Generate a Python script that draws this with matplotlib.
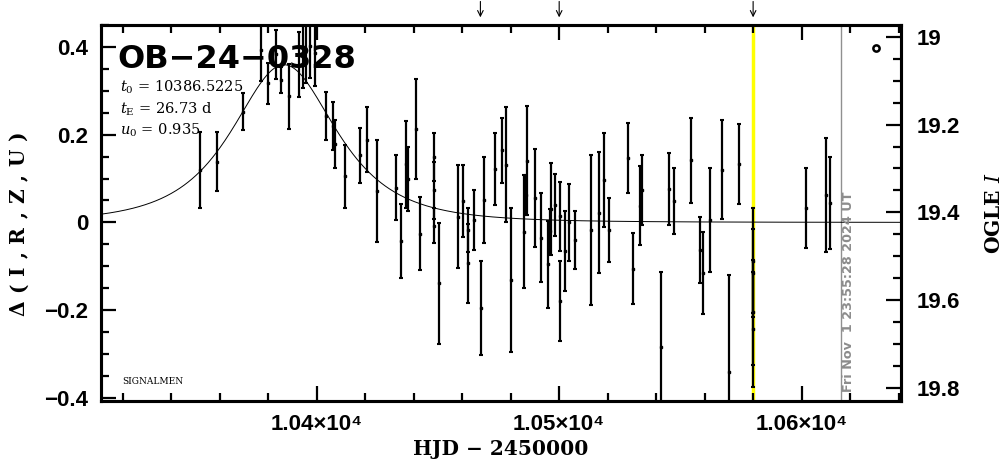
import numpy as np
import matplotlib
matplotlib.use('Agg')
import matplotlib.pyplot as plt
from matplotlib.ticker import MultipleLocator, FixedLocator, FixedFormatter
import matplotlib.transforms as mtransforms

# 事件信息
event_name = 'OB\u221224\u22120328'
t0 = 10386.5225
tE = 26.73
u0 = 0.935
I_base = 19.423          # 对应 Δ = 0 的 OGLE I 星等
date_stamp = 'Fri Nov  1 23:55:28 2024 UT'

# 观测数据 (HJD-2450000, Δ, 误差)
hjd = [10351.8, 10358.9, 10369.7, 10376.8, 10379.9, 10383.1, 10385.4, 10388.6,
       10392.7, 10394.4, 10395.5, 10397.1, 10399.2, 10403.7, 10406.7, 10407.4,
       10411.5, 10417.7, 10420.7, 10424.9, 10432.6, 10434.6, 10436.7, 10437.6,
       10441.0, 10442.5, 10448.4, 10448.4, 10448.4, 10450.3, 10458.3, 10460.3,
       10462.4, 10462.4, 10464.9, 10467.6, 10468.9, 10473.4, 10476.4, 10478.2,
       10480.3, 10485.5, 10486.2, 10486.6, 10490.2, 10492.4, 10495.4, 10496.1,
       10496.5, 10498.4, 10500.2, 10500.5, 10502.3, 10504.2, 10506.4, 10513.3,
       10516.4, 10518.5, 10520.5, 10528.4, 10530.4, 10533.2, 10534.1, 10542.1,
       10545.3, 10547.2, 10554.2, 10557.9, 10559.3, 10562.2, 10567.1, 10570.0,
       10574.3, 10580.0, 10580.0, 10580.0, 10580.0, 10601.9, 10609.9, 10611.9]
delta = [0.119, 0.138, 0.252, 0.392, 0.317, 0.383, 0.324, 0.288,
         0.359, 0.381, 0.392, 0.403, 0.387, 0.242, 0.219, 0.179,
         0.105, 0.153, 0.188, 0.071, 0.079, -0.042, 0.133, 0.099,
         0.214, -0.026, 0.149, 0.073, -0.007, -0.139, 0.013, 0.048,
         -0.018, -0.093, 0.005, -0.195, 0.051, 0.121, 0.164, 0.132,
         -0.131, -0.021, 0.062, 0.141, 0.055, -0.035, -0.095, -0.020,
         0.030, 0.040, 0.014, -0.179, -0.066, 0.000, -0.040, -0.018,
         0.022, 0.096, -0.018, 0.146, -0.105, 0.038, 0.074, -0.283,
         0.077, 0.048, 0.142, -0.063, -0.115, 0.005, 0.120, -0.342,
         0.134, -0.087, -0.115, -0.205, -0.244, 0.032, 0.062, 0.044]
err = [0.087, 0.067, 0.042, 0.070, 0.046, 0.055, 0.030, 0.074,
       0.074, 0.075, 0.075, 0.073, 0.075, 0.055, 0.055, 0.054,
       0.071, 0.062, 0.074, 0.116, 0.074, 0.085, 0.099, 0.072,
       0.114, 0.083, 0.054, 0.065, 0.039, 0.137, 0.117, 0.082,
       0.050, 0.090, 0.068, 0.108, 0.097, 0.082, 0.075, 0.132,
       0.165, 0.128, 0.046, 0.125, 0.112, 0.101, 0.099, 0.050,
       0.105, 0.070, 0.078, 0.092, 0.091, 0.088, 0.065, 0.171,
       0.138, 0.107, 0.073, 0.080, 0.080, 0.090, 0.079, 0.169,
       0.082, 0.075, 0.097, 0.075, 0.093, 0.119, 0.113, 0.223,
       0.091, 0.120, 0.100, 0.120, 0.130, 0.091, 0.130, 0.104]

# 其它标记
extra_point = (10630.8, 0.397)
arrow_hjd = [10467.5, 10500.0, 10580.0]
yellow_hjd = 10580.0
gray_hjd = 10616.1

xlim = (10311, 10641)
ylim = (-0.407, 0.45)
xtick_vals = [10400, 10500, 10600]
xtick_labels = ['1.04\u00d710\u2074', '1.05\u00d710\u2074', '1.06\u00d710\u2074']
ylabel_left = '\u0394(I,R,Z,U)'

plt.rcParams['mathtext.fontset'] = 'dejavuserif'
plt.rcParams['axes.unicode_minus'] = True

fig = plt.figure(figsize=(10.04, 4.59), dpi=100)
ax = fig.add_axes([101/1004, 1 - 401/459, 800/1004, 376/459])

# 竖线
ax.axvline(yellow_hjd, color='#ffff00', lw=2.5, zorder=1)
ax.axvline(gray_hjd, color='#909090', lw=1.0, zorder=1)

# 模型曲线 (Paczynski)
tt = np.linspace(xlim[0], xlim[1], 800)
uu = np.sqrt(u0**2 + ((tt - t0) / tE)**2)
amp = (uu**2 + 2) / (uu * np.sqrt(uu**2 + 4))
ax.plot(tt, 2.5 * np.log10(amp), color='k', lw=0.7, zorder=2)

# 数据点
ax.errorbar(hjd, delta, yerr=err, fmt='s', ms=1.6, color='k', ecolor='k',
            elinewidth=1.6, capsize=1.5, capthick=1.5, zorder=3)
ax.plot(extra_point[0], extra_point[1], 'o', mfc='white', mec='k', ms=4.5, mew=1.8)

ax.set_xlim(*xlim)
ax.set_ylim(*ylim)

# 坐标轴样式
for sp in ax.spines.values():
    sp.set_linewidth(2.2)
tick_font = {'family': ['Liberation Sans', 'DejaVu Sans'], 'weight': 'bold', 'size': 16}
ax.xaxis.set_major_locator(FixedLocator(xtick_vals))
ax.xaxis.set_major_formatter(FixedFormatter(xtick_labels))
ax.xaxis.set_minor_locator(MultipleLocator(20))
ax.yaxis.set_major_locator(MultipleLocator(0.2))
ax.yaxis.set_minor_locator(MultipleLocator(0.05))
ax.yaxis.set_major_formatter(matplotlib.ticker.FuncFormatter(
    lambda v, p: '0' if abs(v) < 1e-9 else ('%.1f' % v).replace('-', '\u2212')))
ax.tick_params(which='both', direction='in', top=True, right=False, width=1.6)
ax.tick_params(which='major', length=11)
ax.tick_params(which='minor', length=5.5)
ax.tick_params(axis='y', pad=9)
ax.tick_params(axis='x', pad=9)
for lab in ax.get_xticklabels() + ax.get_yticklabels():
    lab.set_fontproperties(matplotlib.font_manager.FontProperties(**tick_font))

# 右侧 OGLE I 星等轴
ax2 = ax.twinx()
ax2.set_ylim(I_base - ylim[0], I_base - ylim[1])
ax2.yaxis.set_major_locator(MultipleLocator(0.2))
ax2.yaxis.set_minor_locator(MultipleLocator(0.05))
ax2.yaxis.set_major_formatter(matplotlib.ticker.FuncFormatter(
    lambda v, p: ('%.1f' % v).rstrip('0').rstrip('.')))
ax2.tick_params(which='both', direction='in', width=1.6)
ax2.tick_params(which='major', length=11, pad=11)
ax2.tick_params(which='minor', length=5.5)
for sp in ax2.spines.values():
    sp.set_linewidth(2.2)
for lab in ax2.get_yticklabels():
    lab.set_fontproperties(matplotlib.font_manager.FontProperties(**tick_font))

# 文字
label_font = dict(family='DejaVu Serif', weight='bold', size=14.5)
fig.text(501/1004, 1 - 449/459, 'HJD \u2212 2450000', ha='center', va='center', **label_font)
fig.text(994/1004, 1 - 213/459, 'OGLE $I$', rotation=90, ha='center', va='center', **label_font)

# 左侧标签字距较宽，逐字放置
renderer = fig.canvas.get_renderer()
widths = []
for ch in ylabel_left:
    tmp = fig.text(0, 0, ch, **label_font)
    widths.append(tmp.get_window_extent(renderer).width)
    tmp.remove()
span = 185.0
gap = (span - sum(widths)) / (len(ylabel_left) - 1)
ypos = 316.0
for ch, w in zip(ylabel_left, widths):
    fig.text(24/1004, 1 - (ypos - w/2)/459, ch, rotation=90, rotation_mode='anchor',
             ha='center', va='baseline', **label_font)
    ypos -= w + gap

fig.text(117/1004, 1 - 68/459, event_name, ha='left', va='baseline',
         family='DejaVu Sans', weight='bold', size=23)
param_font = dict(family='DejaVu Serif', size=10.5)
fig.text(120/1004, 1 - 92/459, '$t_0$ = %.4f' % t0, ha='left', va='baseline', **param_font)
fig.text(120/1004, 1 - 114/459, '$t_{\\rm E}$ = %.2f d' % tE, ha='left', va='baseline', **param_font)
fig.text(120/1004, 1 - 135/459, '$u_0$ = %.3f' % u0, ha='left', va='baseline', **param_font)
fig.text(122/1004, 1 - 384/459, 'SIGNALMEN', ha='left', va='baseline',
         family='DejaVu Serif', size=6.5)

trans = mtransforms.blended_transform_factory(ax.transData, ax.transAxes)
ax.text(gray_hjd + 3.3, 0.025, date_stamp, rotation=90, ha='center', va='bottom',
        transform=trans, color='#8c8c8c', family='DejaVu Sans', weight='bold', size=9.2)

# 顶部箭头
for xa in arrow_hjd:
    ax.annotate('', xy=(xa, 1.013), xycoords=trans, xytext=(xa, 1.07), textcoords=trans,
                arrowprops=dict(arrowstyle='->', lw=0.8, color='k', mutation_scale=10),
                annotation_clip=False)

fig.savefig('out.png', dpi=100)
